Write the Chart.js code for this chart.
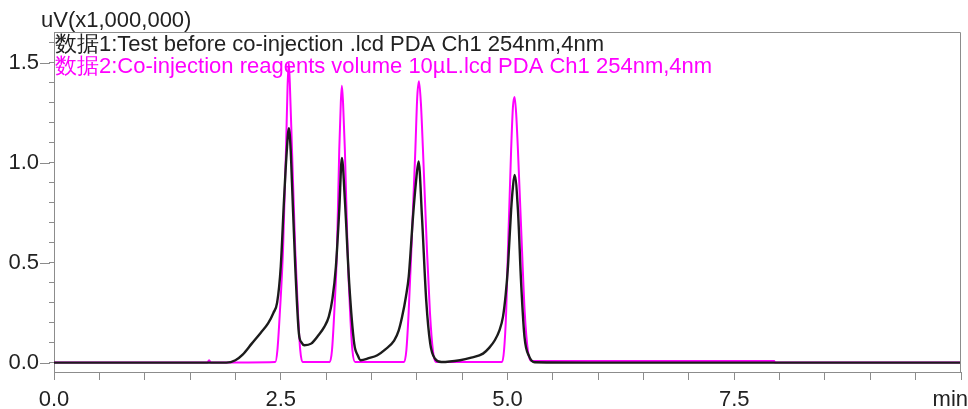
<!DOCTYPE html>
<html>
<head>
<meta charset="utf-8">
<script src="https://cdn.jsdelivr.net/npm/chart.js@4"></script>
<style>
  body { margin: 0; background: #fff; }
  #wrap { width: 968px; height: 409px; }
</style>
</head>
<body>
<div id="wrap"><canvas id="chart-chrom"></canvas></div>
<script>
// legend texts
const label1 = "数据1:Test before co-injection .lcd PDA Ch1 254nm,4nm";
const label2 = "数据2:Co-injection reagents volume 10µL.lcd PDA Ch1 254nm,4nm";
const yUnit = "uV(x1,000,000)";
const xUnit = "min";

// tick values
const xTicks = [0, 0.5, 1, 1.5, 2, 2.5, 3, 3.5, 4, 4.5, 5, 5.5, 6, 6.5, 7, 7.5, 8, 8.5, 9, 9.5, 10];
const xLabels = [0, 2.5, 5, 7.5];
const yTicks = [0, 0.1, 0.2, 0.3, 0.4, 0.5, 0.6, 0.7, 0.8, 0.9, 1, 1.1, 1.2, 1.3, 1.4, 1.5, 1.6];
const yLabels = [0, 0.5, 1, 1.5];

// trace 1 (black), time in min, signal in uV x 1e6
const timeBlack = [0, 1.9, 2.0, 2.08, 2.18, 2.28, 2.36, 2.42, 2.46, 2.5, 2.536, 2.565, 2.59, 2.61, 2.624, 2.66, 2.7, 2.73, 2.762, 2.835, 2.92, 2.98, 3.03, 3.07, 3.108, 3.145, 3.174, 3.207, 3.255, 3.31, 3.35, 3.38, 3.47, 3.565, 3.65, 3.75, 3.8, 3.838, 3.88, 3.911, 3.958, 3.99, 4.02, 4.057, 4.104, 4.148, 4.2, 4.27, 4.476, 4.6, 4.73, 4.8, 4.86, 4.91, 4.95, 4.98, 5.005, 5.04, 5.06, 5.078, 5.115, 5.15, 5.187, 5.24, 5.3, 6.0, 8.0, 10];
const valBlack = [0, 0, 0.012, 0.04, 0.095, 0.15, 0.196, 0.25, 0.3, 0.48, 0.814, 1.05, 1.174, 1.06, 0.898, 0.48, 0.146, 0.1, 0.087, 0.095, 0.14, 0.179, 0.23, 0.32, 0.48, 0.764, 1.024, 0.814, 0.396, 0.095, 0.035, 0.012, 0.022, 0.037, 0.065, 0.11, 0.16, 0.229, 0.33, 0.43, 0.73, 0.9, 1.007, 0.73, 0.31, 0.095, 0.02, 0.003, 0.012, 0.025, 0.045, 0.075, 0.112, 0.16, 0.229, 0.34, 0.48, 0.764, 0.88, 0.94, 0.764, 0.4, 0.13, 0.03, 0.002, 0, 0, 0];

// trace 2 (magenta)
const timeMagenta = [0, 1.69, 1.71, 1.73, 2.44, 2.463, 2.49, 2.525, 2.558, 2.575, 2.588, 2.6, 2.624, 2.66, 2.69, 2.715, 2.74, 3.04, 3.065, 3.09, 3.12, 3.145, 3.162, 3.174, 3.187, 3.207, 3.237, 3.265, 3.29, 3.32, 3.86, 3.885, 3.91, 3.94, 3.984, 4.005, 4.024, 4.045, 4.068, 4.112, 4.145, 4.177, 4.21, 4.94, 4.962, 4.985, 5.005, 5.04, 5.06, 5.078, 5.095, 5.115, 5.16, 5.19, 5.224, 5.26, 5.35, 7.94, 7.95, 10];
const valMagenta = [0, 0, 0.012, 0, 0.003, 0.062, 0.25, 0.563, 1.065, 1.38, 1.5, 1.4, 1.065, 0.563, 0.25, 0.062, 0.003, 0.003, 0.062, 0.25, 0.563, 1.065, 1.3, 1.386, 1.3, 1.065, 0.563, 0.25, 0.062, 0.003, 0.003, 0.062, 0.25, 0.563, 1.065, 1.33, 1.408, 1.3, 1.065, 0.563, 0.25, 0.062, 0.003, 0.003, 0.062, 0.25, 0.563, 1.065, 1.28, 1.33, 1.25, 1.065, 0.563, 0.25, 0.062, 0.008, 0.008, 0.008, 0, 0];

const fontFamily = "'Liberation Sans', Arial, sans-serif";
const axisColor = "#8c8c8c";
const textColor = "#222222";

function toPoints(xs, ys) {
  return xs.map((x, i) => ({ x: x, y: ys[i] }));
}

// draws frame, long major y ticks, unit labels and the text legend
const chromPlugin = {
  id: "chrom",
  beforeDatasetsDraw(chart) {
    const ctx = chart.ctx;
    const a = chart.chartArea;
    ctx.save();
    ctx.font = "22px " + fontFamily;
    ctx.textAlign = "left";
    ctx.textBaseline = "alphabetic";
    chart.data.datasets.forEach((ds, i) => {
      ctx.fillStyle = ds.legendColor;
      ctx.fillText(ds.label, a.left + 1, 51 + i * 22.3);
    });
    ctx.restore();
  },
  afterDraw(chart) {
    const ctx = chart.ctx;
    const a = chart.chartArea;
    const y = chart.scales.y;
    ctx.save();
    ctx.strokeStyle = axisColor;
    ctx.lineWidth = 1;
    ctx.beginPath();
    ctx.moveTo(a.left, a.top + 0.5);
    ctx.lineTo(a.right - 0.5, a.top + 0.5);
    ctx.lineTo(a.right - 0.5, a.bottom);
    yLabels.forEach((v) => {
      const py = Math.round(y.getPixelForValue(v)) + 0.5;
      ctx.moveTo(a.left - 14, py);
      ctx.lineTo(a.left - 4, py);
    });
    ctx.stroke();

    ctx.fillStyle = textColor;
    ctx.font = "22px " + fontFamily;
    ctx.textBaseline = "alphabetic";
    ctx.textAlign = "left";
    ctx.fillText(yUnit, 41, 27);
    ctx.textAlign = "right";
    ctx.fillText(xUnit, chart.width, 406);
    ctx.restore();
  },
};

const ctxChrom = document.getElementById("chart-chrom");

new Chart(ctxChrom, {
  type: "scatter",
  data: {
    datasets: [
      {
        label: label1,
        data: toPoints(timeBlack, valBlack),
        showLine: true,
        pointRadius: 0,
        borderColor: "#1c1c1c",
        legendColor: textColor,
        borderWidth: 2.4,
        cubicInterpolationMode: "monotone",
      },
      {
        label: label2,
        data: toPoints(timeMagenta, valMagenta),
        showLine: true,
        pointRadius: 0,
        borderColor: "#ff00ff",
        legendColor: "#ff00ff",
        borderWidth: 2,
        cubicInterpolationMode: "monotone",
      },
    ],
  },
  options: {
    responsive: true,
    maintainAspectRatio: false,
    animation: false,
    layout: { padding: { top: 32, right: 0, left: 0, bottom: 0 } },
    plugins: {
      legend: { display: false },
      tooltip: { enabled: false },
    },
    scales: {
      x: {
        type: "linear",
        min: 0,
        max: 10,
        afterFit: (scale) => { scale.height = 37; },
        afterBuildTicks: (scale) => { scale.ticks = xTicks.map((v) => ({ value: v })); },
        grid: { drawOnChartArea: false, drawTicks: true, tickLength: 8, color: axisColor },
        border: { color: axisColor, width: 1 },
        ticks: {
          autoSkip: false,
          maxRotation: 0,
          padding: 7,
          color: textColor,
          font: { family: fontFamily, size: 22 },
          callback: (v) => (xLabels.includes(v) ? v.toFixed(1) : ""),
        },
      },
      y: {
        type: "linear",
        min: -0.047,
        max: 1.655,
        afterFit: (scale) => { scale.width = 54; },
        afterBuildTicks: (scale) => { scale.ticks = yTicks.map((v) => ({ value: v })); },
        grid: { drawOnChartArea: false, drawTicks: true, tickLength: 5, color: axisColor },
        border: { color: axisColor, width: 1 },
        ticks: {
          autoSkip: false,
          padding: 10,
          color: textColor,
          font: { family: fontFamily, size: 22 },
          callback: (v) => (yLabels.some((l) => Math.abs(l - v) < 1e-6) ? v.toFixed(1) : ""),
        },
      },
    },
  },
  plugins: [chromPlugin],
});
</script>
</body>
</html>
